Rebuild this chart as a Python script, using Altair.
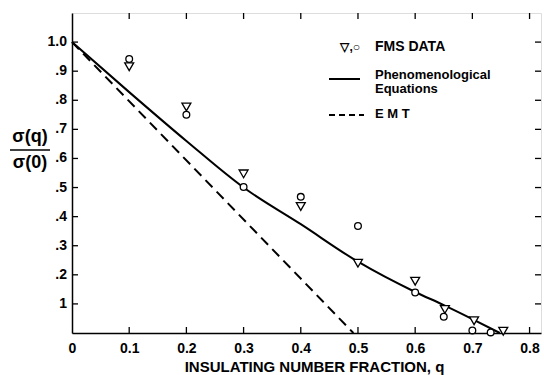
import altair as alt
import pandas as pd

# Phenomenological equations curve
phen_q = [0.0, 0.1, 0.2, 0.3, 0.4, 0.5, 0.6, 0.65, 0.7, 0.748]
phen_s = [1.0, 0.828, 0.66, 0.5, 0.374, 0.245, 0.141, 0.096, 0.048, 0.0]

# EMT straight line
emt_q = [0.0, 0.492]
emt_s = [1.0, 0.0]

# FMS data: triangles
tri_q = [0.1, 0.2, 0.3, 0.4, 0.5, 0.6, 0.652, 0.703, 0.754]
tri_s = [0.915, 0.777, 0.547, 0.435, 0.24, 0.178, 0.081, 0.042, 0.006]

# FMS data: circles
circ_q = [0.1, 0.2, 0.3, 0.4, 0.5, 0.6, 0.65, 0.7, 0.732]
circ_s = [0.942, 0.75, 0.502, 0.468, 0.368, 0.139, 0.056, 0.009, 0.002]

x_ticks = [0.0, 0.1, 0.2, 0.3, 0.4, 0.5, 0.6, 0.7, 0.8]
y_ticks = [0.1, 0.2, 0.3, 0.4, 0.5, 0.6, 0.7, 0.8, 0.9, 1.0]
y_labels = ["1", ".2", ".3", ".4", ".5", ".6", ".7", ".8", ".9", "1.0"]

W, H = 469, 320
FONT = "Liberation Sans"

xs = alt.Scale(domain=[0, 0.82], nice=False)
ys = alt.Scale(domain=[0, 1.1], nice=False)

phen_df = pd.DataFrame({"q": phen_q, "s": phen_s})
emt_df = pd.DataFrame({"q": emt_q, "s": emt_s})
tri_df = pd.DataFrame({"q": tri_q, "s": tri_s})
circ_df = pd.DataFrame({"q": circ_q, "s": circ_s})
xt_df = pd.DataFrame({"v": x_ticks[1:]})
yt_df = pd.DataFrame({"v": y_ticks, "lab": y_labels})
one = pd.DataFrame({"a": [0]})

x_axis = alt.X(
    "q:Q", scale=xs,
    axis=alt.Axis(
        values=x_ticks, grid=False, ticks=False, labelOverlap=False, labelFlush=False,
        labelExpr="datum.value == 0 ? '0' : format(datum.value, '.1f')",
        labelFont=FONT, labelFontSize=14, labelFontWeight="bold", labelPadding=8,
        labelColor="black",
        title="INSULATING NUMBER FRACTION, q", titleFont=FONT, titleFontSize=15,
        titleFontWeight="bold", titleColor="black", titleX=242, titleY=33,
        titleBaseline="middle",
        domainColor="black", domainWidth=1.5,
    ),
)
y_axis = alt.Y(
    "s:Q", scale=ys,
    axis=alt.Axis(
        values=y_ticks, grid=False, ticks=False, labels=False, title="",
        domainColor="black", domainWidth=1.5,
    ),
)

phen = alt.Chart(phen_df).mark_line(color="black", strokeWidth=2, interpolate="monotone").encode(
    x=x_axis, y=y_axis
)
emt = alt.Chart(emt_df).mark_line(color="black", strokeWidth=2, strokeDash=[10, 6]).encode(
    x=alt.X("q:Q", scale=xs), y=alt.Y("s:Q", scale=ys)
)
tri = alt.Chart(tri_df).mark_point(shape="triangle-down", size=80, color="black", filled=False,
                                   strokeWidth=1.3, fill="white", fillOpacity=1).encode(
    x=alt.X("q:Q", scale=xs), y=alt.Y("s:Q", scale=ys)
)
circ = alt.Chart(circ_df).mark_point(shape="circle", size=45, color="black", filled=False,
                                     strokeWidth=1.3, fill="white", fillOpacity=1).encode(
    x=alt.X("q:Q", scale=xs), y=alt.Y("s:Q", scale=ys)
)

# inward tick marks on all four sides
tk = dict(color="black", strokeWidth=1.3)
xb = alt.Chart(xt_df).mark_rule(**tk).encode(x=alt.X("v:Q", scale=xs), y=alt.value(H), y2=alt.value(H - 6))
xtp = alt.Chart(xt_df).mark_rule(**tk).encode(x=alt.X("v:Q", scale=xs), y=alt.value(0), y2=alt.value(6))
yl = alt.Chart(yt_df).mark_rule(**tk).encode(y=alt.Y("v:Q", scale=ys), x=alt.value(0), x2=alt.value(6))
yr = alt.Chart(yt_df).mark_rule(**tk).encode(y=alt.Y("v:Q", scale=ys), x=alt.value(W), x2=alt.value(W - 6))

# y tick labels
ylab = alt.Chart(yt_df).mark_text(font=FONT, fontSize=14, fontWeight="bold", align="right",
                                  baseline="middle", color="black").encode(
    y=alt.Y("v:Q", scale=ys), x=alt.value(-5), text="lab:N")

def txt(t, x, y, size=13, align="left"):
    return alt.Chart(one).mark_text(text=t, font=FONT, fontSize=size, fontWeight="bold",
                                    align=align, baseline="middle", color="black").encode(
        x=alt.value(x), y=alt.value(y))

# y-axis fraction title
num = txt("σ(q)", -42, 124, size=18, align="center")
den = txt("σ(0)", -42, 150, size=18, align="center")
bar = alt.Chart(one).mark_rule(color="black", strokeWidth=1.5).encode(
    x=alt.value(-62), x2=alt.value(-22), y=alt.value(137))

# legend
leg_sym = txt("▽,○", 288, 34, size=12, align="right")
leg_fms = txt("FMS  DATA", 303, 34, size=14)
leg_solid = alt.Chart(one).mark_rule(color="black", strokeWidth=2).encode(
    x=alt.value(257), x2=alt.value(288), y=alt.value(66))
leg_p1 = txt("Phenomenological", 303, 62)
leg_p2 = txt("Equations", 303, 76)
leg_dash = alt.Chart(one).mark_rule(color="black", strokeWidth=2, strokeDash=[6, 4]).encode(
    x=alt.value(257), x2=alt.value(292), y=alt.value(102))
leg_emt = txt("E M T", 303, 101)

chart = alt.layer(
    phen, emt, xb, xtp, yl, yr, tri, circ, ylab,
    num, den, bar, leg_sym, leg_fms, leg_solid, leg_p1, leg_p2, leg_dash, leg_emt,
).properties(
    width=W, height=H,
    autosize=alt.AutoSizeParams(type="none"),
    padding={"left": 72, "top": 13, "right": 3, "bottom": 42},
).configure_view(
    stroke="black", strokeWidth=1.5
).configure_axis(
    labelOverlap=False, labelFlush=False
).configure(background="white")

chart.save("out.html", embed_options={"renderer": "svg", "actions": False})
